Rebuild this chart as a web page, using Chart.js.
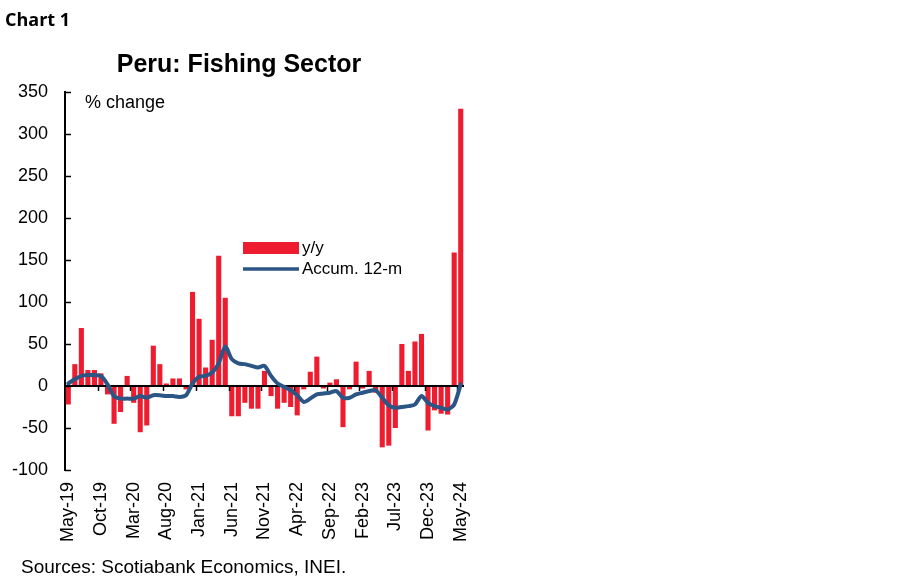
<!DOCTYPE html>
<html>
<head>
<meta charset="utf-8">
<script src="https://cdn.jsdelivr.net/npm/chart.js@4.4.1/dist/chart.umd.min.js"></script>
<style>
  html, body { margin: 0; padding: 0; background: #fff; }
  #wrap { width: 900px; height: 579px; position: relative; }
</style>
</head>
<body>
<div id="wrap"><canvas id="myChart" width="900" height="579"></canvas></div>
<script>
const months = ['May-19','Jun-19','Jul-19','Aug-19','Sep-19','Oct-19','Nov-19','Dec-19','Jan-20','Feb-20',
  'Mar-20','Apr-20','May-20','Jun-20','Jul-20','Aug-20','Sep-20','Oct-20','Nov-20','Dec-20',
  'Jan-21','Feb-21','Mar-21','Apr-21','May-21','Jun-21','Jul-21','Aug-21','Sep-21','Oct-21',
  'Nov-21','Dec-21','Jan-22','Feb-22','Mar-22','Apr-22','May-22','Jun-22','Jul-22','Aug-22',
  'Sep-22','Oct-22','Nov-22','Dec-22','Jan-23','Feb-23','Mar-23','Apr-23','May-23','Jun-23',
  'Jul-23','Aug-23','Sep-23','Oct-23','Nov-23','Dec-23','Jan-24','Feb-24','Mar-24','Apr-24','May-24'];

// y/y % change
const yoy = [-22, 26, 69, 19, 19, 15, -10, -45, -31, 12,
  -20, -55, -47, 48, 26, 3, 9, 9, -4, 112,
  80, 22, 55, 155, 105, -36, -36, -20, -27, -27,
  18, -12, -27, -20, -25, -35, -4, 17, 35, -3,
  4, 8, -49, -4, 29, -3, 18, -8, -73, -71,
  -50, 50, 18, 53, 62, -53, -29, -33, -34, 159, 330];

// accumulated 12 months
const accum12 = [3, 8, 12, 13, 13, 12, 2, -12, -15, -15,
  -15, -12, -14, -11, -11, -12, -12, -13, -11, 3,
  11, 12, 16, 27, 47, 32, 27, 26, 24, 22,
  24, 12, 3, -1, -5, -11, -19, -15, -10, -9,
  -8, -6, -14, -14, -10, -8, -6, -5, -14, -23,
  -26, -25, -24, -22, -12, -20, -24, -26, -28, -22, 2];

const yMin = -100, yMax = 350, yStep = 50;
const labelEvery = 5;

const red = '#ED1C2E';
const blue = '#2B5585';
const txtFont = '"Liberation Sans", Arial, sans-serif';

// extra drawing: zero line with ticks, inward y ticks, texts and legend
const decorations = {
  id: 'decorations',
  beforeDatasetDraw(chart, args) {
    if (args.index !== 0) return;
    const ctx = chart.ctx, x = chart.scales.x, y = chart.scales.y;
    const a = chart.chartArea;
    const y0 = y.getPixelForValue(0);
    const half = (x.getPixelForValue(1) - x.getPixelForValue(0)) / 2;
    ctx.save();
    ctx.strokeStyle = '#000';
    ctx.lineWidth = 2;
    ctx.beginPath();
    ctx.moveTo(a.left, y0);
    ctx.lineTo(a.right, y0);
    ctx.stroke();
    ctx.lineWidth = 1.5;
    for (let i = labelEvery; i < months.length; i += labelEvery) {
      const px = Math.round(x.getPixelForValue(i) - half) + 0.5;
      ctx.beginPath();
      ctx.moveTo(px, y0);
      ctx.lineTo(px, y0 + 5);
      ctx.stroke();
    }
    ctx.restore();
  },
  afterDraw(chart) {
    const ctx = chart.ctx, y = chart.scales.y;
    const a = chart.chartArea;
    ctx.save();
    ctx.strokeStyle = '#000';
    ctx.lineWidth = 1.5;
    for (let v = yMin; v <= yMax; v += yStep) {
      const py = Math.round(y.getPixelForValue(v)) + 0.5;
      ctx.beginPath();
      ctx.moveTo(a.left, py);
      ctx.lineTo(a.left + 6, py);
      ctx.stroke();
    }

    ctx.fillStyle = '#000';
    ctx.textBaseline = 'alphabetic';
    ctx.textAlign = 'left';
    ctx.font = 'bold 18px "Open Sans", "Noto Sans", sans-serif';
    ctx.fillText('Chart 1', 5, 26);

    ctx.textAlign = 'center';
    ctx.font = 'bold 25px ' + txtFont;
    ctx.fillText('Peru: Fishing Sector', 239, 72);

    ctx.textAlign = 'left';
    ctx.font = '18px ' + txtFont;
    ctx.fillText('% change', 85, 108);
    ctx.font = '19px ' + txtFont;
    ctx.fillText('Sources: Scotiabank Economics, INEI.', 21, 573);

    // legend
    ctx.fillStyle = red;
    ctx.fillRect(243, 242, 56, 12);
    ctx.strokeStyle = blue;
    ctx.lineWidth = 3.5;
    ctx.beginPath();
    ctx.moveTo(243, 269);
    ctx.lineTo(299, 269);
    ctx.stroke();
    ctx.fillStyle = '#000';
    ctx.font = '17px ' + txtFont;
    ctx.textBaseline = 'middle';
    ctx.fillText(chart.data.datasets[1].label, 302, 248);
    ctx.fillText(chart.data.datasets[0].label, 302, 269);
    ctx.restore();
  }
};

new Chart('myChart', {
  data: {
    labels: months,
    datasets: [{
      type: 'line',
      label: 'Accum. 12-m',
      data: accum12,
      borderColor: blue,
      borderWidth: 4,
      pointRadius: 0,
      tension: 0.25,
      borderJoinStyle: 'round',
      borderCapStyle: 'round',
      order: 0
    }, {
      type: 'bar',
      label: 'y/y',
      data: yoy,
      backgroundColor: red,
      barPercentage: 0.78,
      categoryPercentage: 1,
      order: 1
    }]
  },
  options: {
    responsive: false,
    animation: false,
    maintainAspectRatio: false,
    layout: { padding: { left: 5, right: 436, top: 92, bottom: 37 } },
    plugins: {
      legend: { display: false },
      title: { display: false },
      tooltip: { enabled: false }
    },
    scales: {
      x: {
        grid: { display: false, drawTicks: false },
        border: { display: false },
        afterFit: s => { s.height = 72; },
        ticks: {
          autoSkip: false,
          minRotation: 90,
          maxRotation: 90,
          padding: 12,
          color: '#000',
          font: { family: txtFont, size: 18 },
          callback: function (v, i) { return i % labelEvery === 0 ? months[i] : ''; }
        }
      },
      y: {
        min: yMin,
        max: yMax,
        grid: { display: false, drawTicks: false },
        border: { display: true, color: '#000', width: 2 },
        afterFit: s => { s.width = 60; },
        ticks: {
          stepSize: yStep,
          padding: 17,
          color: '#000',
          font: { family: txtFont, size: 18 }
        }
      }
    }
  },
  plugins: [decorations]
});
</script>
</body>
</html>
